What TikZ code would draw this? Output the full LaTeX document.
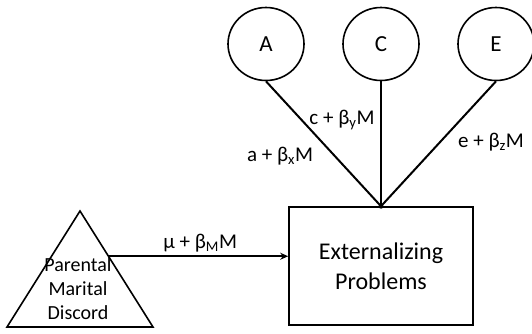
\documentclass[tikz,border=0pt]{standalone}
\usepackage{fontspec}
\setmainfont{Carlito}
\usetikzlibrary{shapes.geometric,arrows.meta,positioning,calc}

\begin{document}
\begin{tikzpicture}[
    x=1pt, y=-1pt,
    latent/.style={draw, ellipse, line width=1.6pt, minimum width=76pt, minimum height=73pt, font=\fontsize{23}{26}\selectfont},
    outcome/.style={draw, line width=1.6pt, minimum width=184pt, minimum height=118pt, align=center, font=\fontsize{24}{30}\selectfont},
    path/.style={line width=2pt},
    coef/.style={font=\fontsize{21}{24}\selectfont}
]
  \useasboundingbox (0,0) rectangle (532,333);

  % Fatores latentes A, C, E
  \node[latent] (A) at (266,44) {A};
  \node[latent] (C) at (381,44) {C};
  \node[latent] (E) at (496,44) {E};

  % Desfecho
  \node[outcome] (ext) at (381,266) {Externalizing\\Problems};
  \coordinate (join) at (ext.north);

  \draw[path] (A.south) -- (join);
  \draw[path] (C.south) -- (join);
  \draw[path] (E.south) -- (join);
  \fill (join) circle (2.5pt);

  \node[coef] (lblA) at (280,156) {a + β\textsubscript{x}M};
  \node[coef] (lblC) at (342,120) {c + β\textsubscript{y}M};
  \node[coef] (lblE) at (491,142) {e + β\textsubscript{z}M};

  % Moderador
  \coordinate (pmdTop) at (80,211);
  \coordinate (pmdLeft) at (7,327);
  \coordinate (pmdRight) at (153,327);
  \draw[line width=1.6pt] (pmdTop) -- (pmdRight) -- (pmdLeft) -- cycle;
  \node[align=center, font=\fontsize{20}{24}\selectfont] (pmd) at (78,289) {Parental\\Marital\\Discord};
  \coordinate (pmdOut) at ($(pmdTop)!0.39!(pmdRight)$);

  \draw[path, -{Stealth[length=8pt, width=7pt]}] (pmdOut) -- (pmdOut -| ext.west)
    node[coef, pos=0.51, above=0pt] (lblM) {μ + β\textsubscript{M}M};

\end{tikzpicture}
\end{document}
